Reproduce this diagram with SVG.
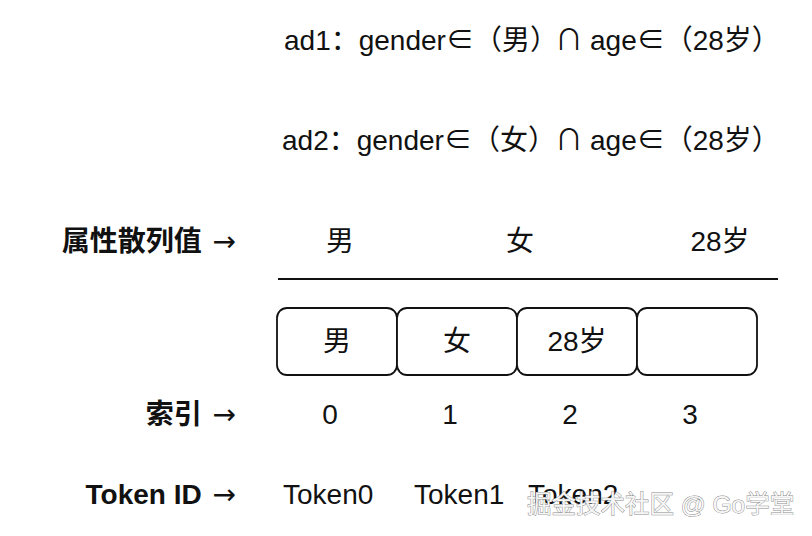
<svg xmlns="http://www.w3.org/2000/svg" width="812" height="536" viewBox="0 0 812 536">
<style>
text{font-family:"Liberation Sans","Noto Sans CJK SC",sans-serif;font-size:28px;fill:#111;}
.b{font-weight:bold;}
.c{text-anchor:middle;}
.e{text-anchor:end;}
.ar{font-family:"DejaVu Sans",sans-serif;font-weight:normal;}
.cap{font-family:"Noto Sans CJK SC",sans-serif;}
.box{fill:#fff;stroke:#111;stroke-width:1.8;}
.wm{font-size:24.5px;fill:#f6f6f6;stroke:#8a8a8a;stroke-width:0.9;paint-order:stroke;}
</style>
<rect width="812" height="536" fill="#fff"/>
<g id="rules">
<text x="284" y="50">ad1：gender∈（男）<tspan class="cap" x="555">∩</tspan><tspan x="590">age∈（28岁）</tspan></text>
<text x="282" y="150">ad2：gender∈（女）<tspan class="cap" x="555">∩</tspan><tspan x="590">age∈（28岁）</tspan></text>
</g>
<g id="labels">
<text class="b e" x="236" y="251">属性散列值 <tspan class="ar" dx="3">→</tspan></text>
<text class="b e" x="236" y="424">索引 <tspan class="ar" dx="3">→</tspan></text>
<text class="b e" x="236" y="504">Token ID <tspan class="ar" dx="3">→</tspan></text>
</g>
<g id="hash-values">
<text class="c" x="340" y="251">男</text>
<text class="c" x="520" y="251">女</text>
<text class="c" x="720" y="251">28岁</text>
</g>
<g id="separator">
<line x1="278" y1="279" x2="778" y2="279" stroke="#111" stroke-width="2"/>
</g>
<g id="cell0"><rect class="box" x="277" y="308" width="120" height="67" rx="10"/><text class="c" x="337" y="351">男</text></g>
<g id="cell1"><rect class="box" x="397" y="308" width="120" height="67" rx="10"/><text class="c" x="457" y="351">女</text></g>
<g id="cell2"><rect class="box" x="517" y="308" width="120" height="67" rx="10"/><text class="c" x="577" y="351">28岁</text></g>
<g id="cell3"><rect class="box" x="637" y="308" width="120" height="67" rx="10"/></g>
<g id="indices">
<text class="c" x="330" y="424">0</text>
<text class="c" x="450" y="424">1</text>
<text class="c" x="570" y="424">2</text>
<text class="c" x="690" y="424">3</text>
</g>
<g id="tokens">
<text x="283" y="504">Token0</text>
<text x="414" y="504">Token1</text>
<text x="528" y="504">Token2</text>
</g>
<g id="watermark">
<text class="wm" x="527" y="513">掘金技术社区 @ Go学堂</text>
</g>
</svg>
